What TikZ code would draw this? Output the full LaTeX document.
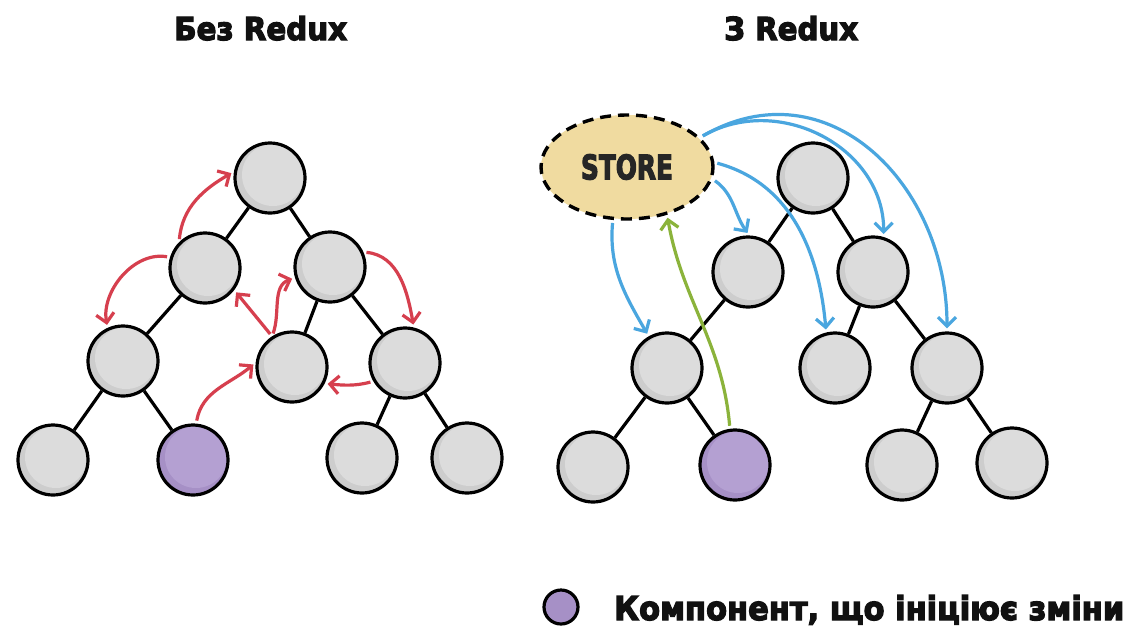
\documentclass[tikz,border=0pt]{standalone}
\usepackage{fontspec}
\setmainfont{DejaVu Sans}
\newfontfamily\heavyfont{DejaVu Sans}[FakeBold=4]
\usetikzlibrary{arrows.meta,shapes.geometric}
\definecolor{ngray}{HTML}{CDCDCD}
\definecolor{nhl}{HTML}{DCDCDC}
\definecolor{npurp}{HTML}{A690C6}
\definecolor{phl}{HTML}{B4A0D2}
\definecolor{ared}{HTML}{D63F4E}
\definecolor{ablue}{HTML}{4AA6DF}
\definecolor{agreen}{HTML}{8BB33B}
\definecolor{storefill}{HTML}{F0DBA0}
\definecolor{txt}{HTML}{111111}
\tikzset{
  nodebase/.style={circle, draw=black, line width=3.2pt, minimum size=70pt, inner sep=0pt},
  gnode/.style={nodebase, fill=ngray,
    path picture={\fill[nhl] ([xshift=3pt,yshift=3pt]path picture bounding box.center) circle (31pt);}},
  pnode/.style={nodebase, fill=npurp,
    path picture={\fill[phl] ([xshift=3pt,yshift=3pt]path picture bounding box.center) circle (31pt);}},
  treeedge/.style={draw=black, line width=3.2pt},
  arr/.style={line width=3.2pt, -{Straight Barb[length=9pt,width=18pt]}, shorten <=3pt, shorten >=3pt},
  redarr/.style={arr, draw=ared},
  bluearr/.style={arr, draw=ablue},
  greenarr/.style={arr, draw=agreen},
  titletext/.style={inner sep=0pt, text=txt, font=\heavyfont\bfseries},
  storenode/.style={ellipse, draw=black, line width=3.4pt, dash pattern=on 11pt off 7pt,
    fill=storefill, minimum width=172pt, minimum height=104pt, inner sep=0pt, text=black!85, font=\heavyfont\bfseries},
}
\begin{document}
\begin{tikzpicture}[x=1pt,y=1pt]
\useasboundingbox (0,0) rectangle (1132,-630);
\fill[white] (0,0) rectangle (1132,-630);

% titles
\node[titletext, anchor=base west] (t1) at (174,-40) {\resizebox{173pt}{24pt}{Без Redux}};
\node[titletext, anchor=base west] (t2) at (724,-40) {\resizebox{134pt}{24pt}{З Redux}};

% ---------- left tree ----------
\node[gnode] (A) at (270,-178) {};
\node[gnode] (B) at (205,-268) {};
\node[gnode] (C) at (330,-267) {};
\node[gnode] (D) at (123,-361) {};
\node[gnode] (E) at (292,-367) {};
\node[gnode] (F) at (405,-363) {};
\node[gnode] (G) at (53,-460) {};
\node[pnode] (H) at (193,-460) {};
\node[gnode] (I) at (362,-458) {};
\node[gnode] (J) at (467,-458) {};
\draw[treeedge] (A) -- (B);
\draw[treeedge] (A) -- (C);
\draw[treeedge] (B) -- (D);
\draw[treeedge] (C) -- (E);
\draw[treeedge] (C) -- (F);
\draw[treeedge] (D) -- (G);
\draw[treeedge] (D) -- (H);
\draw[treeedge] (F) -- (I);
\draw[treeedge] (F) -- (J);

% red arrows
\draw[redarr] (B.135) to[out=85,in=210] (A.170);
\draw[redarr] (B.163) to[out=170,in=100] (D.115);
\draw[redarr] (E.123) -- (B.-37);
\draw[redarr] (E.123) to[out=70,in=200] (C.197);
\draw[redarr] (H.85) to[out=80,in=220] (E.173);
\draw[redarr] (C.24) to[out=-5,in=100] (F.76);
\draw[redarr] (F.210) to[out=195,in=-5] (E.-27);

% ---------- right tree ----------
\node[storenode] (S) at (627,-167) {\resizebox{92pt}{25pt}{STORE}};
\node[gnode] (A2) at (813,-178) {};
\node[gnode] (B2) at (748,-272) {};
\node[gnode] (C2) at (873,-272) {};
\node[gnode] (D2) at (667,-368) {};
\node[gnode] (E2) at (835,-368) {};
\node[gnode] (F2) at (947,-368) {};
\node[gnode] (G2) at (593,-467) {};
\node[pnode] (H2) at (735,-465) {};
\node[gnode] (I2) at (902,-465) {};
\node[gnode] (J2) at (1012,-463) {};
\draw[treeedge] (A2) -- (B2);
\draw[treeedge] (A2) -- (C2);
\draw[treeedge] (B2) -- (D2);
\draw[treeedge] (C2) -- (E2);
\draw[treeedge] (C2) -- (F2);
\draw[treeedge] (D2) -- (G2);
\draw[treeedge] (D2) -- (H2);
\draw[treeedge] (F2) -- (I2);
\draw[treeedge] (F2) -- (J2);

% blue arrows
\draw[bluearr] (S.255) to[out=-95,in=120] (D2.120);
\draw[bluearr] (S.-8) to[out=-35,in=125] (B2.88);
\draw[bluearr] (S.3) to[out=-15,in=95] (E2.104);
\draw[bluearr] (S.22) to[out=30,in=90,looseness=1.1] (C2.73);
\draw[bluearr] (S.22) to[out=30,in=90,looseness=1.2] (F2.90);
% green arrow
\draw[greenarr] (H2.98) to[out=95,in=-80] (S.-50);

% legend
\node[pnode, minimum size=34pt, line width=3.2pt, path picture={}] (L) at (561,-607) {};
\node[titletext, anchor=base west] (lt) at (614,-620) {\resizebox{510pt}{25pt}{Компонент, що ініціює зміни}};
\end{tikzpicture}
\end{document}
